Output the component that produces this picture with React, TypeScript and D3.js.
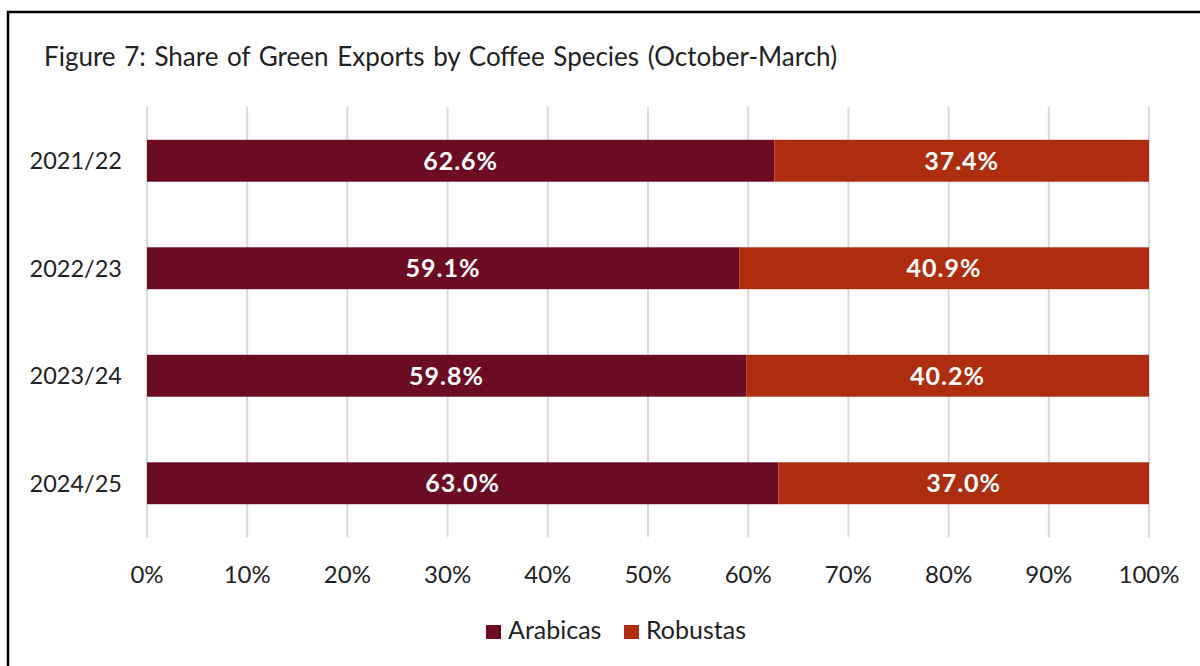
import React from "react";
import * as d3 from "d3";

const seasons = ["2021/22", "2022/23", "2023/24", "2024/25"];
const arabicas = [62.6, 59.1, 59.8, 63.0];
const robustas = [37.4, 40.9, 40.2, 37.0];
const seriesNames = ["Arabicas", "Robustas"];
const seriesColors = ["#6B0C22", "#AE2D0E"];
const xTicks = [0, 10, 20, 30, 40, 50, 60, 70, 80, 90, 100];

const W = 1200;
const H = 666;
const FONT = "Lato, 'Open Sans', sans-serif";

const App = () => {
  const x = d3.scaleLinear().domain([0, 100]).range([147, 1149]);
  const y = d3.scaleBand().domain(seasons).range([107, 537]).paddingInner(0.61).paddingOuter(0.305);

  const rows = seasons.map((s, i) => ({ season: s, values: [arabicas[i], robustas[i]] }));

  return (
    <svg width={W} height={H} style={{ position: "absolute", left: 0, top: 0, background: "#fff" }}>
      <rect x={8} y={12} width={W + 20} height={H + 20} fill="#fff" stroke="#000" strokeWidth={2.5} />
      <text x={44} y={66} fontFamily={FONT} fontSize={26} wordSpacing={2} fill="#222">
        Figure 7: Share of Green Exports by Coffee Species (October-March)
      </text>

      {xTicks.map((t) => (
        <g key={t}>
          <line x1={x(t)} x2={x(t)} y1={107} y2={537} stroke="#D9D9D9" strokeWidth={2} />
          <text x={x(t)} y={583} textAnchor="middle" fontFamily={FONT} fontSize={24} fill="#222">
            {t}%
          </text>
        </g>
      ))}

      {rows.map((r) => {
        let acc = 0;
        return (
          <g key={r.season}>
            <text
              x={122}
              y={(y(r.season) as number) + y.bandwidth() / 2}
              dy="0.36em"
              textAnchor="end"
              fontFamily={FONT}
              fontSize={23.5}
              fill="#222"
            >
              {r.season}
            </text>
            {r.values.map((v, j) => {
              const x0 = x(acc);
              acc += v;
              const x1 = x(acc);
              return (
                <g key={j}>
                  <rect x={x0} y={y(r.season)} width={x1 - x0} height={y.bandwidth()} fill={seriesColors[j]} />
                  <text
                    x={(x0 + x1) / 2}
                    y={(y(r.season) as number) + y.bandwidth() / 2}
                    dy="0.36em"
                    textAnchor="middle"
                    fontFamily={FONT}
                    fontSize={25}
                    fontWeight="bold"
                    letterSpacing={1}
                    fill="#fff"
                  >
                    {v.toFixed(1)}%
                  </text>
                </g>
              );
            })}
          </g>
        );
      })}

      <g>
        <rect x={486} y={625} width={15} height={14} fill={seriesColors[0]} />
        <text x={508} y={639} fontFamily={FONT} fontSize={25} fill="#222">
          {seriesNames[0]}
        </text>
        <rect x={624} y={625} width={15} height={14} fill={seriesColors[1]} />
        <text x={646} y={639} fontFamily={FONT} fontSize={25} fill="#222">
          {seriesNames[1]}
        </text>
      </g>
    </svg>
  );
};

export default App;
